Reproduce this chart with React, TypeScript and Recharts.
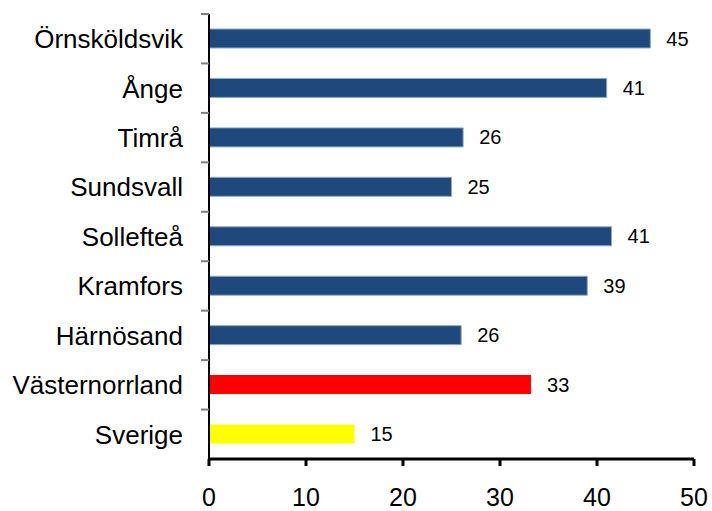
import { BarChart, Bar, XAxis, YAxis, Cell, LabelList } from "recharts";

const categories = [
  "Örnsköldsvik",
  "Ånge",
  "Timrå",
  "Sundsvall",
  "Sollefteå",
  "Kramfors",
  "Härnösand",
  "Västernorrland",
  "Sverige",
];
const values = [45.5, 41, 26.2, 25, 41.5, 39, 26, 33.2, 15];
const labels = [45, 41, 26, 25, 41, 39, 26, 33, 15];
const xTicks = [0, 10, 20, 30, 40, 50];

const BLUE = "#1F497D";
const fills = [BLUE, BLUE, BLUE, BLUE, BLUE, BLUE, BLUE, "#FF0000", "#FFFF00"];

const data = categories.map((name, i) => ({
  name,
  value: values[i],
  label: labels[i],
}));

const FONT = "'Liberation Sans', Arial, sans-serif";
const PLOT_HEIGHT = 445;
const BAND = PLOT_HEIGHT / categories.length;

// etikett + streck vid kategorigränsen
const CategoryTick = (props: any) => {
  const { x, y, payload } = props;
  return (
    <g>
      <text
        x={x - 26}
        y={y}
        dy="0.36em"
        textAnchor="end"
        fontSize={26}
        fontFamily={FONT}
        fill="#000"
      >
        {payload.value}
      </text>
      <line
        x1={x - 8}
        x2={x}
        y1={y - BAND / 2}
        y2={y - BAND / 2}
        stroke="#7f7f7f"
        strokeWidth={2}
      />
    </g>
  );
};

export default function App() {
  return (
    <div style={{ position: "absolute", left: 0, top: 0, background: "#fff" }}>
      <BarChart
        width={712}
        height={511}
        data={data}
        layout="vertical"
        margin={{ top: 14, right: 18, bottom: 0, left: 0 }}
      >
        <XAxis
          type="number"
          domain={[0, 50]}
          ticks={xTicks}
          axisLine={{ stroke: "#000", strokeWidth: 3 }}
          tickLine={{ stroke: "#000", strokeWidth: 3 }}
          tickSize={7}
          tickMargin={22}
          height={52}
          tick={{ fontSize: 25, fontFamily: FONT, fill: "#000" }}
          interval={0}
        />
        <YAxis
          type="category"
          dataKey="name"
          width={209}
          axisLine={{ stroke: "#000", strokeWidth: 2 }}
          tickLine={false}
          tickSize={0}
          tickMargin={0}
          tick={<CategoryTick />}
          interval={0}
        />
        <Bar dataKey="value" barSize={19} isAnimationActive={false}>
          {data.map((d, i) => (
            <Cell
              key={d.name}
              fill={fills[i]}
              stroke={fills[i] === BLUE ? "#8FAACC" : "none"}
              strokeWidth={1}
            />
          ))}
          <LabelList
            dataKey="label"
            position="right"
            offset={16}
            fontSize={20}
            fontFamily={FONT}
            fill="#000"
          />
        </Bar>
      </BarChart>
    </div>
  );
}
